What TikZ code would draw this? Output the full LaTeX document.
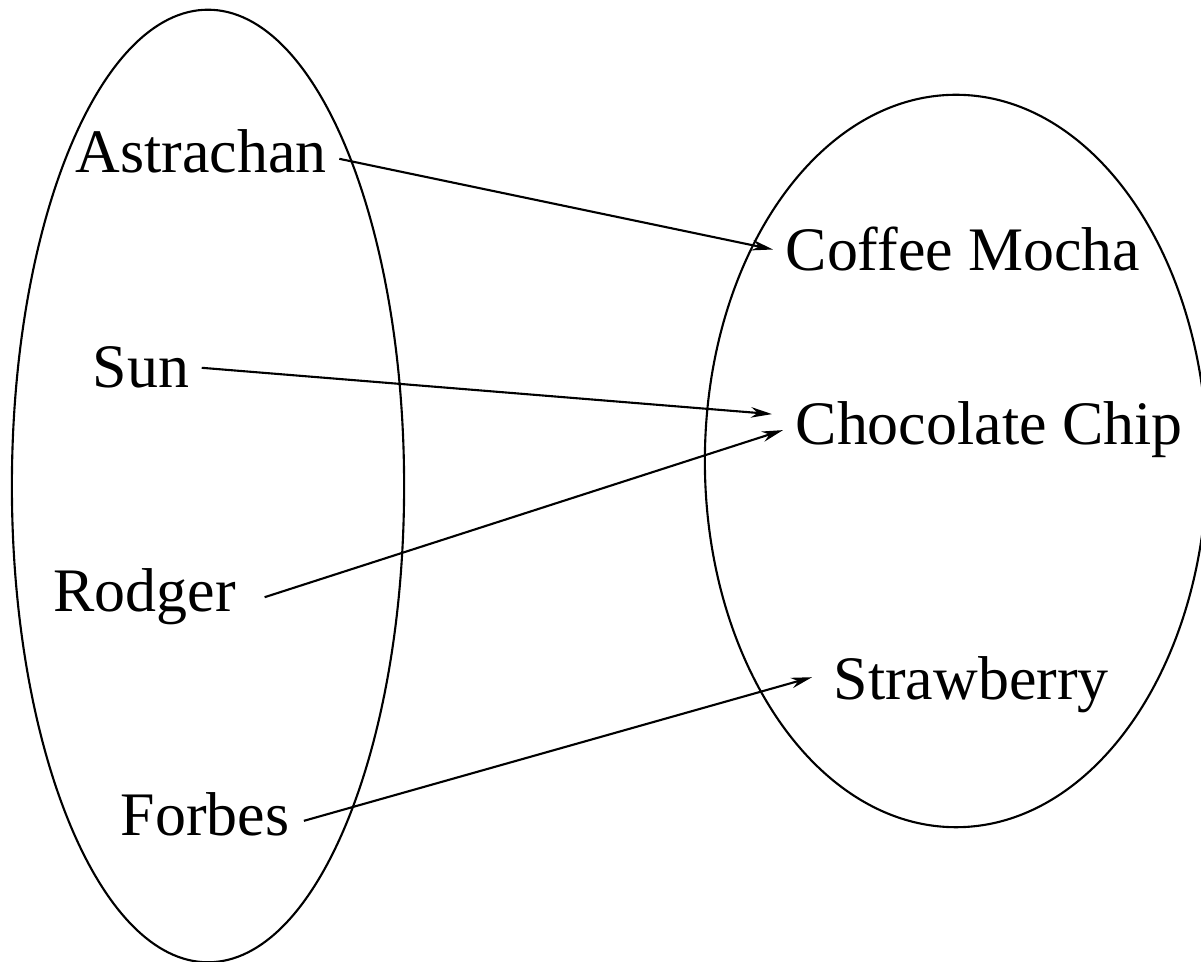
\documentclass[tikz,border=0pt]{standalone}
\usepackage{fontspec}
\setmainfont{Liberation Serif}
\usepackage{tikz}
\usetikzlibrary{shapes.geometric,arrows.meta,positioning,calc}

\begin{document}
\begin{tikzpicture}[
    x=0.01cm, y=-0.01cm,
    set/.style={ellipse, draw, line width=0.6pt, inner sep=0pt},
    elem/.style={anchor=base west, inner sep=0.12cm, font=\fontsize{17.6pt}{20pt}\selectfont},
    arrow/.style={-{Stealth[length=6pt,width=3pt]}, line width=0.6pt}
]
\useasboundingbox (0,0) rectangle (1201,962);

% Sets
\node[set, minimum width=3.92cm, minimum height=9.52cm] (students) at (208,486) {};
\node[set, minimum width=5.02cm, minimum height=7.32cm] (flavours) at (956,461) {};

% Left set
\node[elem] (ast) at (63,173) {Astrachan};
\node[elem] (sun) at (80,388) {Sun};
\node[elem] (rod) at (41,612) {Rodger};
\node[elem] (forb) at (108,835) {Forbes};

% Right set
\node[elem] (coffee) at (773,271) {Coffee Mocha};
\node[elem] (choc) at (783,445) {Chocolate Chip};
\node[elem] (straw) at (821,700) {Strawberry};

% Arrows
\draw[arrow] ($(ast.east)+(0,7)$) -- (coffee.west);
\draw[arrow] (sun.east) -- ($(choc.west)+(-11,-16)$);
\draw[arrow] ($(rod.east)+(16,0)$) -- (choc.west);
\draw[arrow] ($(forb.east)+(2,7)$) -- ($(straw.west)+(-9,-8)$);

\end{tikzpicture}
\end{document}
